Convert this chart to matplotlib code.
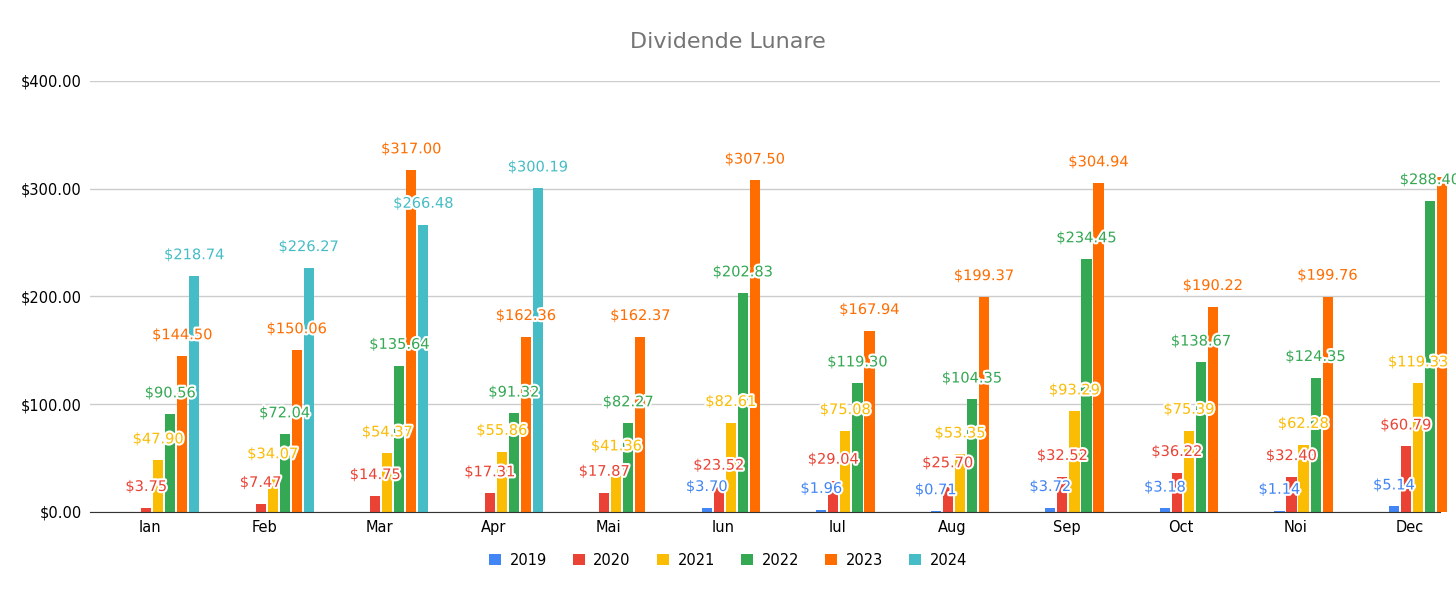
import matplotlib
matplotlib.use("Agg")
import matplotlib.pyplot as plt
import matplotlib.patheffects as pe
import numpy as np

months = ["Ian","Feb","Mar","Apr","Mai","Iun","Iul","Aug","Sep","Oct","Noi","Dec"]
years = ["2019","2020","2021","2022","2023","2024"]
v2019 = [None,None,None,None,None,3.70,1.96,0.71,3.72,3.18,1.14,5.14]
v2020 = [3.75,7.47,14.75,17.31,17.87,23.52,29.04,25.70,32.52,36.22,32.40,60.79]
v2021 = [47.90,34.07,54.37,55.86,41.36,82.61,75.08,53.35,93.29,75.39,62.28,119.33]
v2022 = [90.56,72.04,135.64,91.32,82.27,202.83,119.30,104.35,234.45,138.67,124.35,288.40]
v2023 = [144.50,150.06,317.00,162.36,162.37,307.50,167.94,199.37,304.94,190.22,199.76,310.48]
v2024 = [218.74,226.27,266.48,300.19,None,None,None,None,None,None,None,None]
series = [v2019,v2020,v2021,v2022,v2023,v2024]
colors = ["#4285F4","#EA4335","#FBBC04","#34A853","#FF6D01","#46BDC6"]

fig = plt.figure(figsize=(14.56,5.98), dpi=100)
ax = fig.add_axes([0.062,0.144,0.927,0.721])
x = np.arange(len(months))
step, w = 0.105, 0.088
for k,(vals,c,yr) in enumerate(zip(series,colors,years)):
    xs = [xi+(k-1.33)*step for xi,v in zip(x,vals) if v is not None]
    vs = [v for v in vals if v is not None]
    ax.bar(xs, vs, width=w, color=c, label=yr, zorder=3, clip_on=False)
    for xi,v in zip(xs,vs):
        ax.annotate(f"${v:,.2f}", (xi, v), xytext=(0,10), textcoords="offset points",
                    ha="center", va="bottom", fontsize=10.5, color=c, zorder=5,
                    path_effects=[pe.withStroke(linewidth=3, foreground="white")])

ax.set_ylim(0,400)
ax.set_xlim(-0.524, 11.262)
ax.set_yticks([0,100,200,300,400])
ax.set_yticklabels([f"${t:,.2f}" for t in [0,100,200,300,400]], fontsize=10.5)
ax.set_xticks(x)
ax.set_xticklabels(months, fontsize=10.5)
ax.tick_params(length=0, pad=6)
ax.grid(axis="y", color="#cccccc", linewidth=1, zorder=0)
for s in ["top","right","left"]:
    ax.spines[s].set_visible(False)
ax.spines["bottom"].set_color("#333333")
ax.spines["bottom"].set_zorder(4)
fig.text(0.5, 0.93, "Dividende Lunare", ha="center", va="center", fontsize=16, color="#757575")
fig.legend(loc="center", bbox_to_anchor=(0.5,0.063), ncol=6, frameon=False, fontsize=10.5,
           handlelength=0.8, handleheight=0.8, columnspacing=1.8, handletextpad=0.6)
fig.savefig("out.png", dpi=100, facecolor="white")
